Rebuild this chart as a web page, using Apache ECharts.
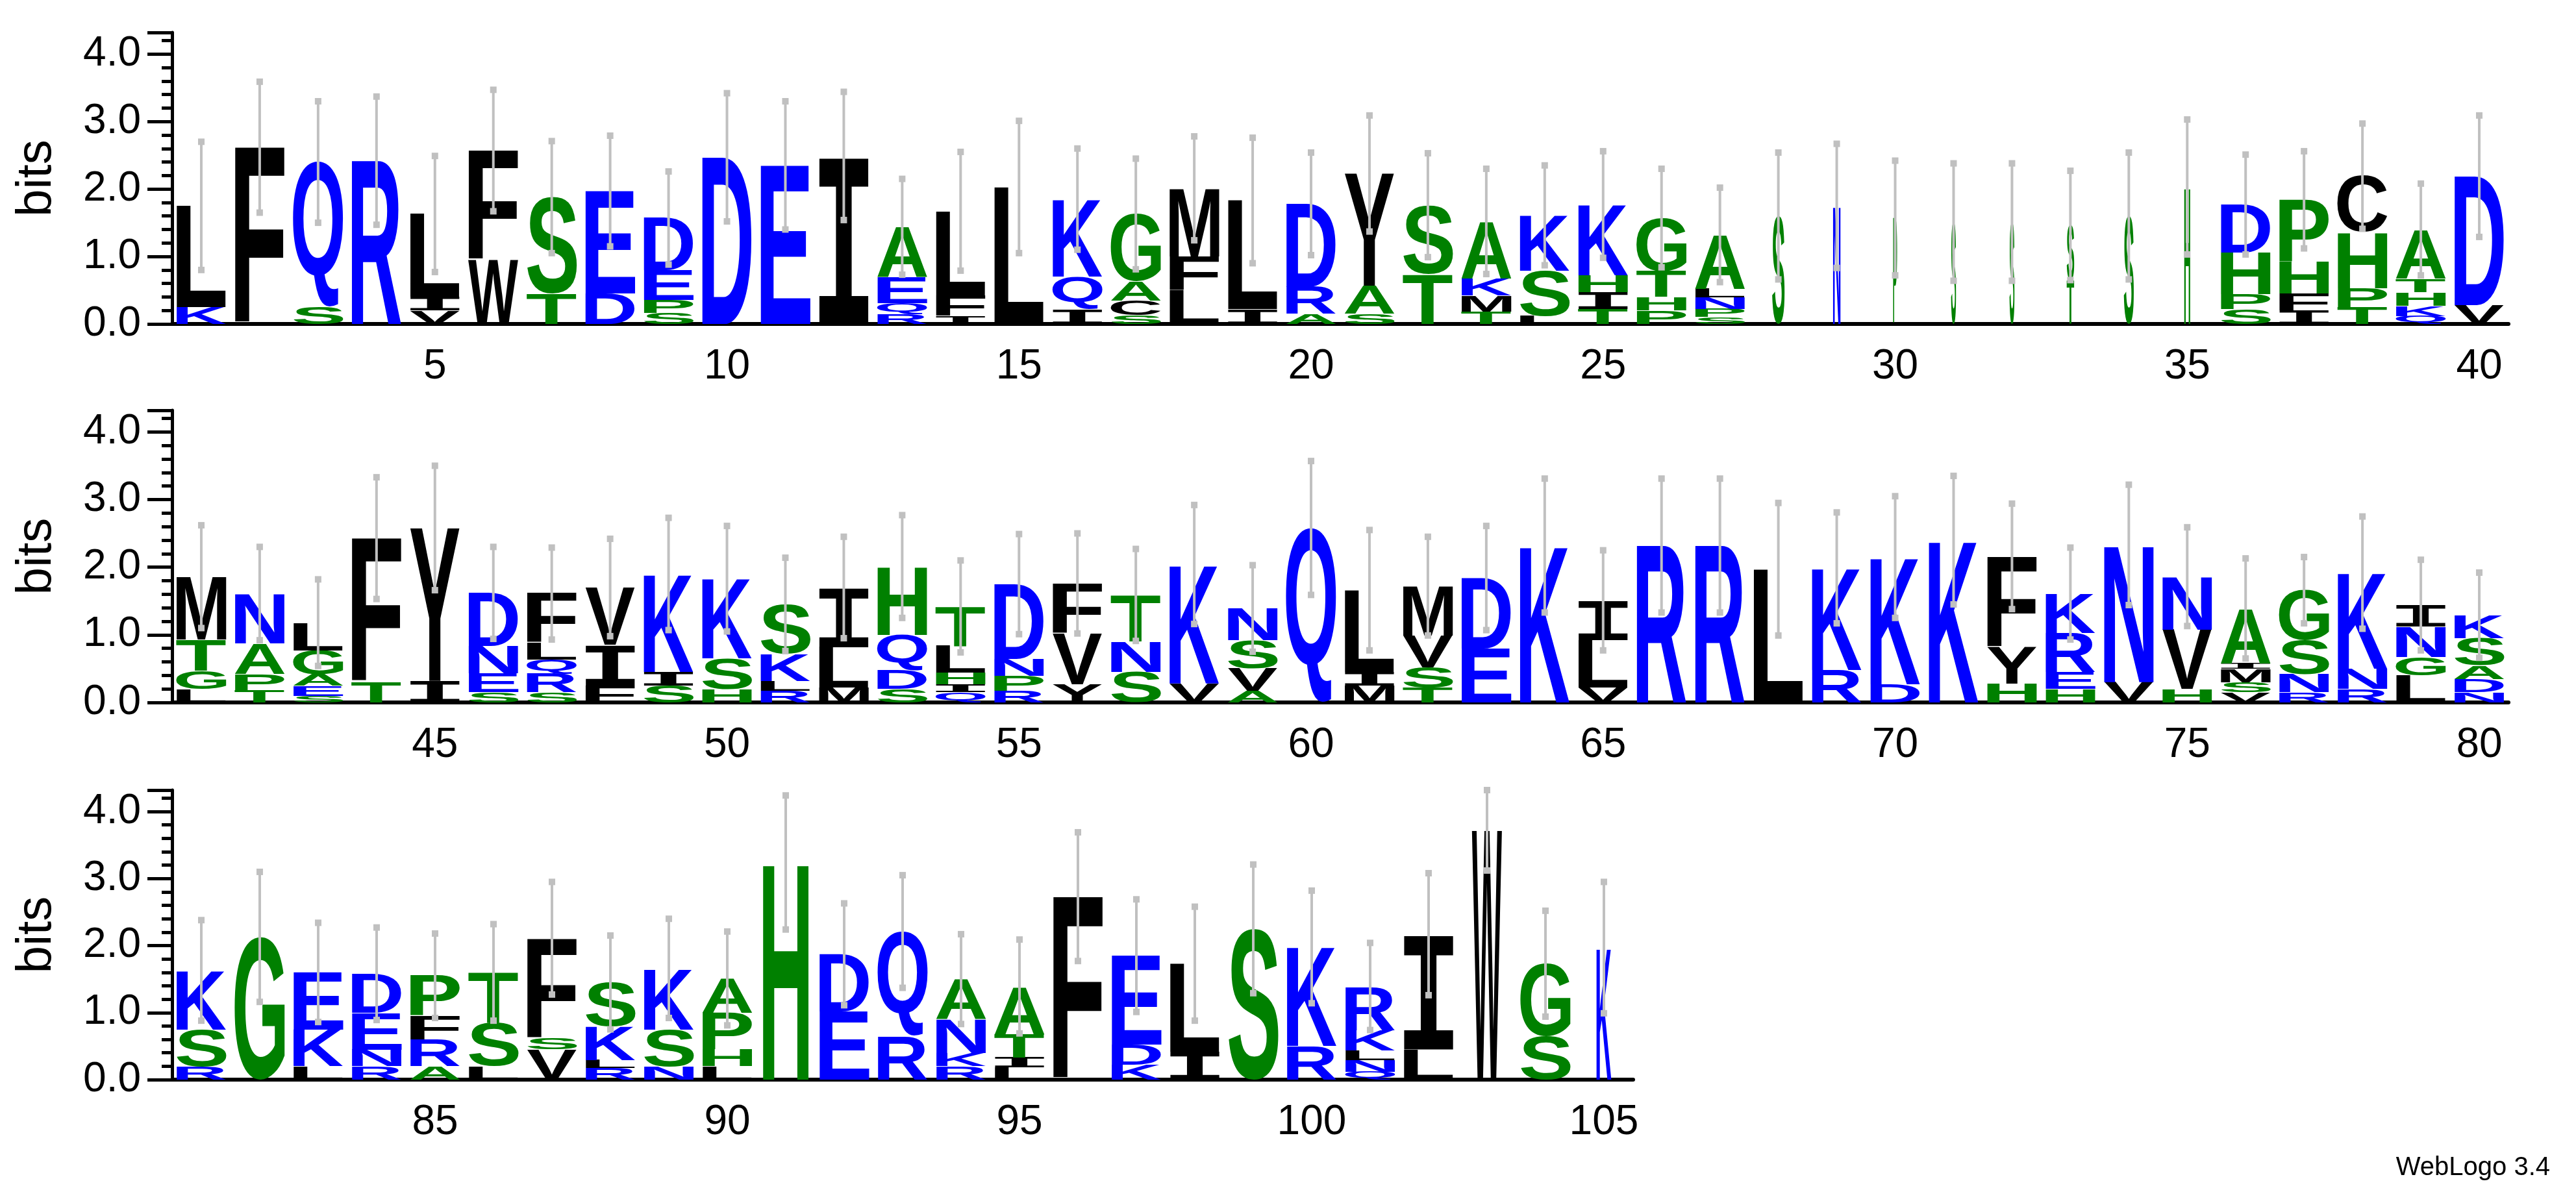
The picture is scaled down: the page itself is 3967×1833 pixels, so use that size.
<!DOCTYPE html>
<html>
<head>
<meta charset="utf-8">
<script src="https://cdn.jsdelivr.net/npm/echarts@6/dist/echarts.min.js"></script>
<style>
  html, body { margin: 0; padding: 0; background: #fff; }
  #main { width: 3967px; height: 1833px; }
</style>
</head>
<body>
<div id="main"></div>
<script>
// letters of each column, bottom to top (position 1..105)
var logoLetters = [
    "KL", "F", "SQ", "R", "VIL", "WF", "TS", "DE", "SPED", "D",
    "E", "I", "RQEA", "IFL", "L", "IQK", "SCAG", "LFM", "IL", "ARD",
    "SAY", "TS", "TMKA", "LSK", "TIHK", "PHTG", "SPNLA", "S", "N", "P",
    "S", "S", "TS", "S", "H", "SPHD", "IFHP", "TPHC", "QKHTA", "VD",
    "LGTM", "TPAN", "SEAGL", "TF", "IY", "SEND", "SRQLF", "FIV", "SIK", "HSK",
    "RLKS", "MLI", "SDQH", "QIHLT", "RPND", "YVF", "SNT", "VK", "AVSN", "Q",
    "MIL", "TSVM", "ED", "K", "VLI", "R", "R", "L", "RK", "DK",
    "K", "HYF", "HERK", "VN", "HVN", "VSMIA", "RNSG", "RNK", "LGNI", "NDASK",
    "RSK", "G", "LKE", "RNED", "ARFP", "LST", "VSF", "RLKS", "NSK", "LHPA",
    "H", "ED", "RQ", "RKNA", "LITA", "F", "KDE", "IL", "S", "RK",
    "QNLKR", "LI", "W", "SG", "K"
];
// heights in bits, same order
var logoHeights = [
    [.25, 1.5], [2.62], [.25, 2.15], [2.42], [.2, .2, 1.23], [.95, 1.62], [.45, 1.43], [.45, 1.52], [.16, .2, .44, .77], [2.47],
    [2.35], [2.49], [.15, .16, .38, .75], [.12, .3, 1.25], [2.03], [.22, .48, 1.15], [.13, .22, .28, 1.0], [.5, .5, 1.01], [.22, 1.61], [.15, .4, 1.23],
    [.15, .42, 1.66], [.74, 1.02], [.18, .24, .25, .85], [.12, .67, .82], [.22, .25, .25, 1.05], [.2, .2, .38, .79], [.1, .12, .17, .13, .8], [1.6], [1.75], [1.57],
    [1.51], [1.51], [.65, .81], [1.6], [2.03], [.22, .22, .62, .71], [.2, .25, .47, .92], [.25, .28, .83, .83], [.12, .15, .2, .2, .73], [.28, 1.91],
    [.2, .27, .46, .93], [.18, .24, .45, .74], [.1, .15, .17, .35, .41], [.3, 2.13], [.32, 2.26], [.15, .28, .41, .78], [.15, .28, .2, .25, .73], [.25, .6, .85], [.25, .2, 1.45], [.2, .45, 1.18],
    [.17, .15, .4, .73], [.22, .6, .88], [.2, .28, .52, 1.01], [.15, .12, .17, .4, .58], [.17, .22, .25, 1.11], [.27, .75, .74], [.45, .45, .69], [.28, 1.76], [.17, .33, .42, .47], [2.58],
    [.25, .2, 1.21], [.22, .3, .47, .73], [.8, 1.04], [2.32], [.22, .7, .59], [2.32], [2.32], [1.97], [.48, 1.51], [.27, 1.88],
    [2.40], [.28, .54, 1.34], [.2, .25, .58, .58], [.3, 2.03], [.2, .88, .78], [.15, .15, .2, .08, .81], [.15, .27, .5, .74], [.2, .3, 1.42], [.4, .27, .45, .32], [.15, .2, .2, .4, .34],
    [.2, .55, .88], [2.13], [.2, .55, .85], [.2, .25, .55, .58], [.2, .4, .35, .6], [.2, .65, .75], [.45, .17, 1.49], [.17, .12, .5, .66], [.2, .55, .91], [.2, .25, .55, .51],
    [3.24], [1.02, .85], [.65, 1.56], [.2, .2, .5, .6], [.18, .15, .35, .71], [2.73], [.22, .3, 1.33], [.42, 1.31], [2.25], [.5, 1.48],
    [.12, .17, .15, .3, .65], [.45, 1.72], [3.72], [.65, 1.08], [1.97]
];
// upper end of each error bar (bits); bars are symmetric about the stack top
var errUpper = [
    2.70, 3.59, 3.30, 3.37, 2.49, 3.47, 2.71, 2.79, 2.26, 3.42,
    3.30, 3.44, 2.15, 2.55, 3.01, 2.60, 2.45, 2.78, 2.76, 2.54,
    3.09, 2.53, 2.30, 2.35, 2.56, 2.30, 2.02, 2.54, 2.67, 2.42,
    2.38, 2.38, 2.27, 2.54, 3.03, 2.51, 2.56, 2.97, 2.08, 3.09,
    2.62, 2.30, 1.82, 3.33, 3.50, 2.30, 2.29, 2.42, 2.73, 2.61,
    2.14, 2.45, 2.77, 2.10, 2.49, 2.50, 2.27, 2.92, 2.03, 3.57,
    2.55, 2.45, 2.61, 3.31, 2.25, 3.31, 3.31, 2.95, 2.81, 3.05,
    3.35, 2.94, 2.29, 3.22, 2.59, 2.13, 2.15, 2.75, 2.11, 1.92,
    2.38, 3.10, 2.34, 2.27, 2.18, 2.32, 2.95, 2.15, 2.40, 2.21,
    4.24, 2.63, 3.05, 2.17, 2.09, 3.69, 2.69, 2.58, 3.21, 2.82,
    2.04, 3.08, 4.32, 2.52, 2.95
];
// columns drawn narrower (few sequences at that position)
var narrowCols = { 28: .25, 29: .15, 30: .08, 31: .1, 32: .1, 33: .15, 34: .2, 35: .12, 91: .92, 103: .6, 105: .3 };
var rowRanges = [[1, 40], [41, 80], [81, 105]];
var yTicks = [0, 1, 2, 3, 4];

var GREEN = "SGTAPH", BLUE = "KRDEQN";
function letterColor(c) {
    if (GREEN.indexOf(c) >= 0) return "#008000";
    if (BLUE.indexOf(c) >= 0) return "#0000ff";
    return "#000000";
}

// the serif I of the logo comes from a mono face
function letterFont(c) {
    return c === "I" ? 'bold 100px "Liberation Mono"' : 'bold 100px "Liberation Sans"';
}
var ctx = document.createElement("canvas").getContext("2d");
ctx.textBaseline = "middle";
var metrics = {};
function glyph(c) {
    if (!metrics[c]) {
        ctx.font = letterFont(c);
        var m = ctx.measureText(c);
        metrics[c] = {
            l: m.actualBoundingBoxLeft, r: m.actualBoundingBoxRight,
            a: m.actualBoundingBoxAscent, d: m.actualBoundingBoxDescent
        };
    }
    return metrics[c];
}

var chart = echarts.init(document.getElementById("main"));

var grids = [
    { left: 265, right: 104, top: 50, bottom: 1334 },
    { left: 265, right: 104, top: 632, bottom: 751 },
    { left: 265, right: 1452, top: 1217, bottom: 170 }
];
var xAxes = [], yAxes = [], series = [];

rowRanges.forEach(function (rg, gi) {
    var cats = [];
    var letterData = [], errData = [];
    for (var p = rg[0]; p <= rg[1]; p++) {
        var idx = p - rg[0];
        cats.push(String(p));
        var letters = logoLetters[p - 1], hs = logoHeights[p - 1];
        var y = 0;
        for (var k = 0; k < letters.length; k++) {
            letterData.push([idx, y, y + hs[k], letters[k], narrowCols[p] || 1]);
            y += hs[k];
        }
        var half = errUpper[p - 1] - y;
        errData.push([idx, y - half, errUpper[p - 1]]);
    }
    var tickFn5 = function (i) { return (i + rg[0]) % 5 === 0; };
    xAxes.push({
        type: "category", gridIndex: gi, data: cats, position: "bottom",
        axisLine: { lineStyle: { color: "#000", width: 6 } },
        axisTick: { alignWithLabel: true, length: 10, lineStyle: { color: "#000", width: 3 } },
        axisLabel: { show: false }
    });
    xAxes.push({
        type: "category", gridIndex: gi, data: cats, position: "bottom",
        axisLine: { show: false },
        axisTick: { alignWithLabel: true, length: 22, interval: tickFn5, lineStyle: { color: "#000", width: 3 } },
        axisLabel: {
            interval: 0, margin: 34, fontSize: 64, color: "#000", fontFamily: "Liberation Sans",
            formatter: function (v) { return (+v) % 5 === 0 ? v : ""; }
        }
    });
    yAxes.push({
        type: "value", gridIndex: gi, min: 0, max: 4.32, interval: 1,
        name: "bits", nameLocation: "middle", nameGap: 170,
        nameTextStyle: { fontSize: 76, color: "#000", fontFamily: "Liberation Sans" },
        axisLine: { show: true, lineStyle: { color: "#000", width: 5 } },
        axisTick: { show: true, length: 38, lineStyle: { color: "#000", width: 5 } },
        minorTick: { show: true, splitNumber: 5, length: 16, lineStyle: { color: "#000", width: 5 } },
        splitLine: { show: false },
        axisLabel: {
            fontSize: 64, color: "#000", margin: 48, fontFamily: "Liberation Sans",
            showMaxLabel: false,
            formatter: function (v) { return yTicks.indexOf(v) >= 0 ? v.toFixed(1) : ""; }
        }
    });
    series.push({
        type: "custom", xAxisIndex: gi * 2, yAxisIndex: gi, z: 2,
        data: letterData,
        renderItem: function (params, api) {
            var c = api.value(3);
            var slot = api.size([1, 0])[0];
            var w = slot * 0.86 * api.value(4);
            var base = api.coord([api.value(0), api.value(1)]);
            var top = api.coord([api.value(0), api.value(2)]);
            var g = glyph(c);
            var x0 = base[0] - w / 2, yTop = top[1], yBot = base[1];
            var sx = w / (g.l + g.r), sy = (yBot - yTop) / (g.a + g.d);
            return {
                type: "text",
                x: x0 + sx * g.l, y: yTop + sy * g.a,
                scaleX: sx, scaleY: sy,
                style: {
                    text: c, x: 0, y: 0, font: letterFont(c),
                    fill: letterColor(c), align: "left", verticalAlign: "middle"
                }
            };
        }
    });
    series.push({
        type: "custom", xAxisIndex: gi * 2, yAxisIndex: gi, z: 3,
        data: errData,
        renderItem: function (params, api) {
            var lo = api.coord([api.value(0), api.value(1)]);
            var hi = api.coord([api.value(0), api.value(2)]);
            var s = 10;
            var st = { fill: "#c0c0c0" };
            return {
                type: "group",
                children: [
                    { type: "line", shape: { x1: lo[0], y1: lo[1], x2: hi[0], y2: hi[1] }, style: { stroke: "#c0c0c0", lineWidth: 4 } },
                    { type: "rect", shape: { x: lo[0] - s / 2, y: lo[1] - s / 2, width: s, height: s }, style: st },
                    { type: "rect", shape: { x: hi[0] - s / 2, y: hi[1] - s / 2, width: s, height: s }, style: st }
                ]
            };
        }
    });
});

var option = {
    backgroundColor: "#fff",
    animation: false,
    grid: grids,
    xAxis: xAxes,
    yAxis: yAxes,
    series: series,
    graphic: [{
        type: "text", right: 40, bottom: 14,
        style: { text: "WebLogo 3.4", font: '40px "Liberation Sans"', fill: "#000" }
    }]
};
chart.setOption(option);
</script>
</body>
</html>
